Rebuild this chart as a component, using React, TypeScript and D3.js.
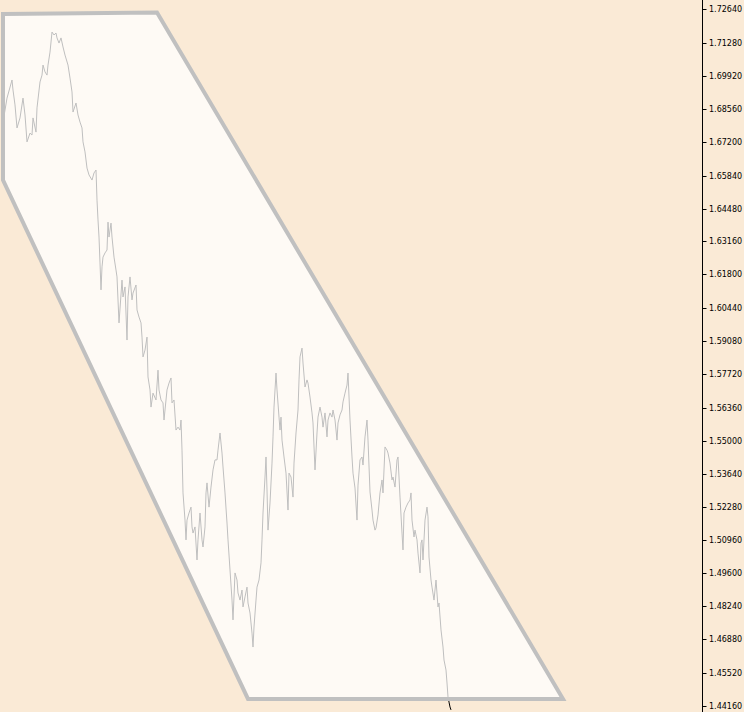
import React from "react";
import * as d3 from "d3";

const W = 744;
const H = 712;

// bar offsets (bars from chart's first visible bar) and close prices
const bars = [0,4,9,10,12,14,17,20,22,24,27,29,30,33,34,37,39,40,42,44,45,47,49,51,53,54,56,58,60,62,65,67,69,70,73,75,77,79,80,82,84,86,89,91,93,94,95,96,97,98,99,100,102,104,105,106,108,109,111,113,114,116,119,120,122,124,125,127,129,130,133,134,136,138,139,140,142,144,145,147,148,150,153,155,156,158,160,161,164,166,168,169,171,173,175,177,178,179,180,182,183,184,186,188,189,190,192,194,195,197,199,200,202,203,204,206,208,210,212,214,215,217,219,220,222,224,225,227,229,230,232,234,235,237,239,240,242,244,245,247,249,250,251,253,254,256,258,259,260,262,263,264,265,267,269,270,271,273,274,276,277,278,279,281,283,285,286,288,290,291,293,295,296,297,299,300,302,304,305,307,309,310,312,314,315,317,319,320,322,324,325,327,329,330,332,334,335,337,339,340,342,344,345,347,349,350,352,354,355,357,359,360,362,364,365,367,369,370,372,373,375,377,379,380,382,384,385,387,389,390,392,394,395,397,399,400,401,403,405,407,408,409,411,412,414,415,417,418,419,420,422,424,425,426,428,429,431,433,435,436,438,440,441,443,444,445,446,447,448];
const prices = [1.6803,1.6901,1.6975,1.6934,1.6873,1.6779,1.6820,1.6901,1.6832,1.6722,1.6758,1.6750,1.6820,1.6762,1.6861,1.6967,1.6995,1.7036,1.7008,1.6995,1.7036,1.7089,1.7171,1.7159,1.7167,1.7147,1.7126,1.7147,1.7110,1.7077,1.7036,1.6983,1.6926,1.6844,1.6881,1.6832,1.6803,1.6779,1.6722,1.6681,1.6615,1.6587,1.6566,1.6595,1.6607,1.6484,1.6403,1.6333,1.6227,1.6117,1.6211,1.6251,1.6268,1.6280,1.6394,1.6333,1.6390,1.6333,1.6251,1.6198,1.6170,1.5982,1.6157,1.6088,1.6129,1.5912,1.6088,1.6170,1.6076,1.6104,1.6137,1.6035,1.6006,1.5982,1.5924,1.5843,1.5871,1.5924,1.5761,1.5708,1.5638,1.5695,1.5667,1.5789,1.5708,1.5667,1.5655,1.5585,1.5708,1.5736,1.5757,1.5655,1.5667,1.5544,1.5556,1.5544,1.5585,1.5462,1.5287,1.5176,1.5095,1.5176,1.5205,1.5229,1.5148,1.5123,1.5148,1.5013,1.5095,1.5205,1.5095,1.5066,1.5148,1.5287,1.5328,1.5229,1.5311,1.5381,1.5422,1.5422,1.5462,1.5532,1.5450,1.5393,1.5287,1.5164,1.5095,1.4972,1.4849,1.4768,1.4960,1.4931,1.4878,1.4849,1.4890,1.4821,1.4862,1.4902,1.4837,1.4796,1.4714,1.4657,1.4739,1.4849,1.4902,1.4931,1.5001,1.5095,1.5205,1.5352,1.5434,1.5299,1.5135,1.5246,1.5409,1.5516,1.5638,1.5777,1.5708,1.5597,1.5544,1.5597,1.5503,1.5434,1.5368,1.5217,1.5368,1.5352,1.5270,1.5409,1.5532,1.5626,1.5749,1.5843,1.5879,1.5818,1.5720,1.5749,1.5736,1.5679,1.5614,1.5573,1.5381,1.5532,1.5597,1.5638,1.5597,1.5556,1.5614,1.5516,1.5585,1.5614,1.5597,1.5626,1.5585,1.5503,1.5573,1.5606,1.5626,1.5659,1.5695,1.5728,1.5777,1.5585,1.5434,1.5368,1.5307,1.5176,1.5319,1.5422,1.5434,1.5401,1.5516,1.5585,1.5503,1.5291,1.5217,1.5176,1.5135,1.5144,1.5197,1.5287,1.5340,1.5287,1.5475,1.5462,1.5450,1.5409,1.5340,1.5352,1.5311,1.5422,1.5434,1.5270,1.5123,1.5054,1.5205,1.5229,1.5246,1.5258,1.5287,1.5176,1.5107,1.5135,1.5095,1.5041,1.4960,1.5082,1.5095,1.5013,1.5176,1.5229,1.5189,1.5025,1.4931,1.4902,1.4849,1.4931,1.4821,1.4837,1.4727,1.4657,1.4604,1.4563,1.4510,1.4453,1.4432,1.4412,1.4400];

// channel polygon vertices (bar offset, price)
const polyBars = [0, 154, 560, 245, 0];
const polyPrices = [1.7245, 1.7251, 1.4445, 1.4445, 1.6566];

// price axis labels
const tickLabels = ["1.72640","1.71280","1.69920","1.68560","1.67200","1.65840","1.64480","1.63160","1.61800","1.60440","1.59080","1.57720","1.56360","1.55000","1.53640","1.52280","1.50960","1.49600","1.48240","1.46880","1.45520","1.44160"];

export default function App() {
  const axisX = 702.5;
  const x = d3.scaleLinear().domain([0, 699]).range([3, 702]);
  const y = d3.scaleLinear().domain([1.4416, 1.7264]).range([706, 9.3]);

  const pts: [number, number][] = bars.map((b, i) => [x(b), y(prices[i])]);
  const line = d3.line<[number, number]>().x((d) => d[0]).y((d) => d[1]);
  const polyPts: [number, number][] = polyBars.map((b, i) => [x(b), y(polyPrices[i])]);
  const polyPath = "M" + polyPts.map((p) => p.join(",")).join("L") + "Z";

  return (
    <svg
      width={W}
      height={H}
      style={{ position: "absolute", left: 0, top: 0, display: "block" }}
    >
      <rect x={0} y={0} width={W} height={H} fill="#FAEAD6" />
      <clipPath id="plot">
        <rect x={0} y={0} width={axisX} height={H} />
      </clipPath>
      <g clipPath="url(#plot)">
        <path d={line(pts) || ""} fill="none" stroke="#000" strokeWidth={1} />
        <path d={polyPath} fill="#ffffff" fillOpacity={0.75} stroke="none" />
        <path
          d={polyPath}
          fill="none"
          stroke="#C0C0C0"
          strokeWidth={4}
          strokeLinejoin="miter"
        />
      </g>
      <line x1={axisX} x2={axisX} y1={0} y2={H} stroke="#000" strokeWidth={1} />
      {tickLabels.map((t) => {
        const ty = Math.round(y(+t)) + 0.5;
        return (
          <g key={t}>
            <line x1={axisX} x2={axisX + 4} y1={ty} y2={ty} stroke="#000" strokeWidth={1} />
            <text
              x={709}
              y={ty}
              dy="0.35em"
              fontFamily="DejaVu Sans, Verdana, sans-serif"
              fontSize={8}
              fill="#000"
            >
              {t}
            </text>
          </g>
        );
      })}
    </svg>
  );
}
